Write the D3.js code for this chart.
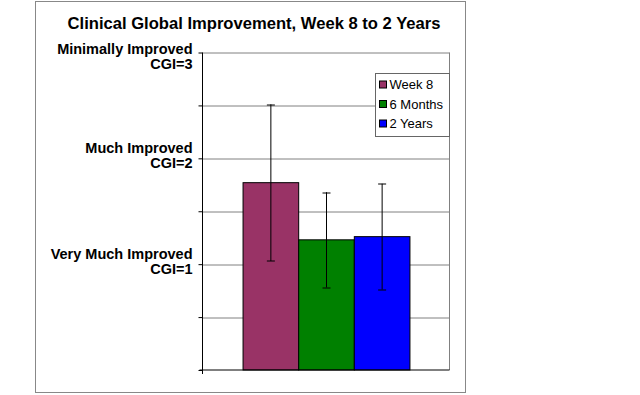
<!DOCTYPE html>
<html>
<head>
<meta charset="utf-8">
<script src="https://cdn.jsdelivr.net/npm/d3@7"></script>
<style>
  body { margin: 0; background: #fff; }
  svg { display: block; font-family: Arial, "Liberation Sans", sans-serif; }
</style>
</head>
<body>
<div id="chart"></div>
<script>
// data
const categories = ["CGI"];
const seriesNames = ["Week 8", "6 Months", "2 Years"];
const seriesValues = [1.77, 1.23, 1.26];
const seriesErrors = [0.74, 0.45, 0.50];
const seriesColors = ["#993366", "#008000", "#0000ff"];
const tickValues = [0, 0.5, 1, 1.5, 2, 2.5, 3];
const tickLabels = {1: ["Very Much Improved", "CGI=1"], 2: ["Much Improved", "CGI=2"], 3: ["Minimally Improved", "CGI=3"]};

const width = 640, height = 395;
const margin = {top: 52.5, left: 202.5, right: 190.5, bottom: 25};
const plotW = width - margin.left - margin.right;
const plotH = height - margin.top - margin.bottom;

const svg = d3.select("#chart").append("svg")
  .attr("width", width)
  .attr("height", height);

// outer frame
svg.append("rect")
  .attr("x", 35.5).attr("y", 1.5)
  .attr("width", 430).attr("height", 391)
  .attr("fill", "none")
  .attr("stroke", "#888");

svg.append("text")
  .attr("x", 254).attr("y", 28.5)
  .attr("text-anchor", "middle")
  .style("font-size", "16.6px")
  .style("font-weight", "bold")
  .text("Clinical Global Improvement, Week 8 to 2 Years");

const g = svg.append("g")
  .attr("transform", "translate(" + margin.left + "," + margin.top + ")");

const y = d3.scaleLinear().domain([0, 3]).range([plotH, 0]);
const x0 = d3.scaleBand().domain(categories).range([0, plotW])
  .paddingInner(0).paddingOuter(0.24);
const x1 = d3.scaleBand().domain(seriesNames).range([0, x0.bandwidth()]);

// gridlines
g.selectAll("line.grid")
  .data(tickValues.slice(1))
  .enter().append("line")
  .attr("class", "grid")
  .attr("x1", 0).attr("x2", plotW)
  .attr("y1", d => Math.round(y(d)) + 0.5)
  .attr("y2", d => Math.round(y(d)) + 0.5)
  .attr("stroke", "#808080");

// right border of plot area
g.append("line")
  .attr("x1", plotW).attr("x2", plotW)
  .attr("y1", 0).attr("y2", plotH)
  .attr("stroke", "#808080");

// y axis
const yAxis = d3.axisLeft(y).tickValues(tickValues).tickSize(4).tickFormat("");
const ax = g.append("g").call(yAxis);
ax.select(".domain").attr("stroke", "#000").attr("d", "M0,0V" + (plotH + 4));
ax.selectAll(".tick line").attr("stroke", "#000");

// two-line tick labels
Object.keys(tickLabels).forEach(k => {
  const v = +k;
  const cy = Math.max(y(v) - 2, 4);
  const t = g.append("text")
    .attr("text-anchor", "end")
    .style("font-size", "14.5px")
    .style("font-weight", "bold");
  t.append("tspan").attr("x", -10).attr("y", cy - 3).text(tickLabels[k][0]);
  t.append("tspan").attr("x", -10).attr("y", cy + 12).text(tickLabels[k][1]);
});

// bars
const bars = g.selectAll("g.bar")
  .data(seriesNames.map((n, i) => ({name: n, value: seriesValues[i], err: seriesErrors[i], color: seriesColors[i]})))
  .enter().append("g")
  .attr("class", "bar")
  .attr("transform", d => "translate(" + (x0(categories[0]) + x1(d.name)) + ",0)");

bars.append("rect")
  .attr("x", 0.5)
  .attr("y", d => y(d.value))
  .attr("width", x1.bandwidth())
  .attr("height", d => plotH - y(d.value))
  .attr("fill", d => d.color)
  .attr("stroke", "#000");

// error bars
const cx = x1.bandwidth() / 2 + 0.5;
bars.append("line")
  .attr("x1", cx).attr("x2", cx)
  .attr("y1", d => y(d.value + d.err))
  .attr("y2", d => y(d.value - d.err))
  .attr("stroke", "#000");
bars.selectAll("line.cap")
  .data(d => [d.value + d.err, d.value - d.err])
  .enter().append("line")
  .attr("class", "cap")
  .attr("x1", cx - 4).attr("x2", cx + 4)
  .attr("y1", d => Math.round(y(d)) + 0.5)
  .attr("y2", d => Math.round(y(d)) + 0.5)
  .attr("stroke", "#000");

// x axis line
g.append("line")
  .attr("x1", -3).attr("x2", plotW)
  .attr("y1", plotH).attr("y2", plotH)
  .attr("stroke", "#000");

// legend
const legend = svg.append("g").attr("transform", "translate(375.5,73.5)");
legend.append("rect")
  .attr("width", 74).attr("height", 63)
  .attr("fill", "#fff")
  .attr("stroke", "#666");
seriesNames.forEach((n, i) => {
  const row = legend.append("g").attr("transform", "translate(4," + (11 + i * 19.5) + ")");
  row.append("rect")
    .attr("x", 0).attr("y", -3.5)
    .attr("width", 7).attr("height", 7)
    .attr("fill", seriesColors[i])
    .attr("stroke", "#000");
  row.append("text")
    .attr("x", 10).attr("y", 4.5)
    .style("font-size", "13px")
    .text(n);
});
</script>
</body>
</html>
